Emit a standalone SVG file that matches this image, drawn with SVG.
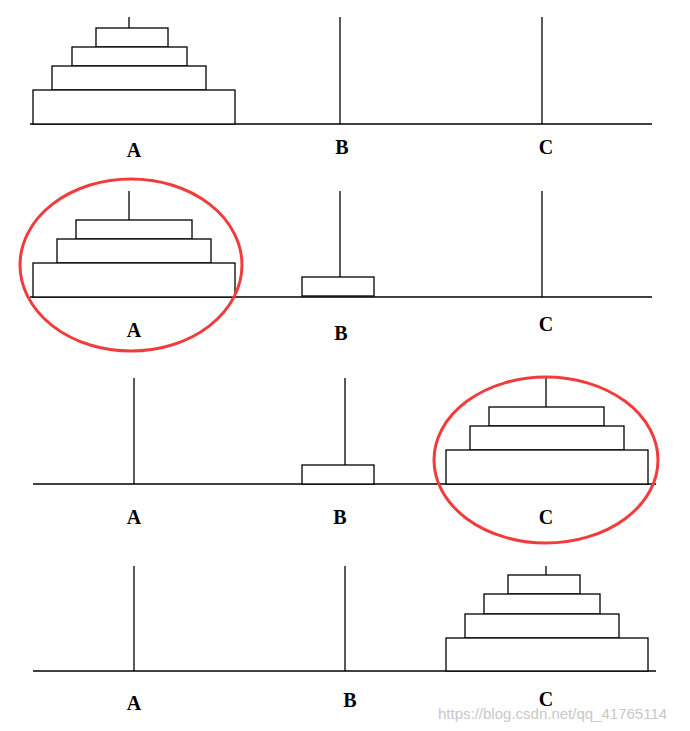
<svg xmlns="http://www.w3.org/2000/svg" width="690" height="731" viewBox="0 0 690 731">
<style>
.l{stroke:#000;stroke-width:1.3;fill:none}
.d{stroke:#000;stroke-width:1.3;fill:#fff}
.t{font-family:"Liberation Serif",serif;font-weight:bold;font-size:20px;text-anchor:middle;fill:#000}
.e{fill:none;stroke:#f03c3c;stroke-width:3}
.w{font-family:"Liberation Sans",Arial,sans-serif;font-size:15px;fill:#c8c8c8}
</style>
<rect width="690" height="731" fill="#fff"/>
<g id="panel1">
<line class="l" x1="30" y1="124" x2="652" y2="124"/>
<line class="l" x1="129" y1="17" x2="129" y2="28"/>
<line class="l" x1="340" y1="17" x2="340" y2="124"/>
<line class="l" x1="542" y1="17" x2="542" y2="124"/>
<rect class="d" x="96" y="28" width="72" height="19"/>
<rect class="d" x="72" y="47" width="115" height="19"/>
<rect class="d" x="52" y="66" width="154" height="24"/>
<rect class="d" x="33" y="90" width="202" height="34"/>
<text class="t" x="134" y="157">A</text>
<text class="t" x="342" y="154">B</text>
<text class="t" x="546" y="154">C</text>
</g>
<g id="panel2">
<line class="l" x1="30" y1="297" x2="652" y2="297"/>
<line class="l" x1="129" y1="191" x2="129" y2="220"/>
<line class="l" x1="340" y1="191" x2="340" y2="277"/>
<line class="l" x1="542" y1="191" x2="542" y2="297"/>
<rect class="d" x="76" y="220" width="116" height="19"/>
<rect class="d" x="57" y="239" width="154" height="24"/>
<rect class="d" x="33" y="263" width="202" height="34"/>
<rect class="d" x="302" y="277" width="72" height="19"/>
<ellipse class="e" cx="131" cy="265" rx="111" ry="86"/>
<text class="t" x="134" y="337">A</text>
<text class="t" x="341" y="340">B</text>
<text class="t" x="546" y="331">C</text>
</g>
<g id="panel3">
<line class="l" x1="33" y1="484" x2="656" y2="484"/>
<line class="l" x1="134" y1="378" x2="134" y2="484"/>
<line class="l" x1="345" y1="378" x2="345" y2="465"/>
<line class="l" x1="546" y1="378" x2="546" y2="407"/>
<rect class="d" x="302" y="465" width="72" height="19"/>
<rect class="d" x="489" y="407" width="115" height="19"/>
<rect class="d" x="470" y="426" width="154" height="24"/>
<rect class="d" x="446" y="450" width="202" height="34"/>
<ellipse class="e" cx="546" cy="460" rx="112" ry="83"/>
<text class="t" x="134" y="524">A</text>
<text class="t" x="340" y="524">B</text>
<text class="t" x="546" y="524">C</text>
</g>
<g id="panel4">
<line class="l" x1="33" y1="671" x2="656" y2="671"/>
<line class="l" x1="134" y1="566" x2="134" y2="671"/>
<line class="l" x1="345" y1="566" x2="345" y2="671"/>
<line class="l" x1="546" y1="566" x2="546" y2="575"/>
<rect class="d" x="508" y="575" width="72" height="19"/>
<rect class="d" x="484" y="594" width="116" height="20"/>
<rect class="d" x="465" y="614" width="154" height="24"/>
<rect class="d" x="446" y="638" width="202" height="33"/>
<text class="t" x="134" y="710">A</text>
<text class="t" x="350" y="707">B</text>
<text class="t" x="546" y="706">C</text>
</g>
<text class="w" x="438" y="719">https://blog.csdn.net/qq_41765114</text>
</svg>
